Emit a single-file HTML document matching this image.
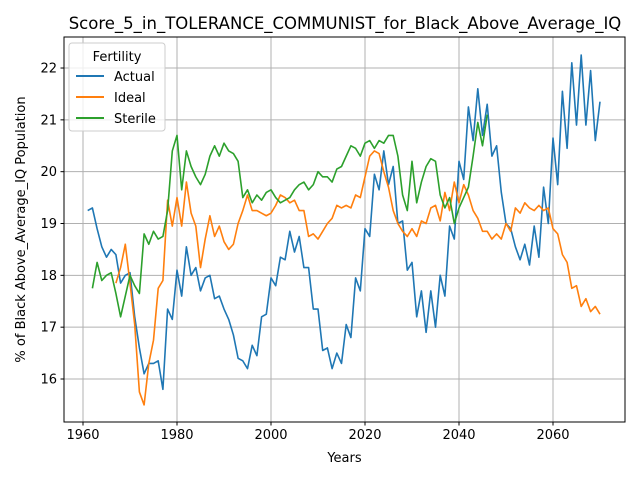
<!DOCTYPE html>
<html><head><meta charset="utf-8"><style>
body{margin:0;background:#fff;}
svg{font-family:"DejaVu Sans","Liberation Sans",sans-serif;}
</style></head><body>
<svg id="chart" width="640" height="480">
<text x="345" y="29" font-size="16.5" text-anchor="middle">Score_5_in_TOLERANCE_COMMUNIST_for_Black_Above_Average_IQ</text>
<g id="grid"></g>
<g id="lines"></g>
<rect x="64" y="37" width="561" height="385" fill="none" stroke="#000" stroke-width="1"/>
<g id="ticks"></g>
<text x="344.5" y="462" font-size="13" text-anchor="middle">Years</text>
<text transform="translate(25,229.5) rotate(-90)" font-size="13" text-anchor="middle">% of Black Above_Average_IQ Population</text>
<g>
<rect x="69" y="43" width="96" height="88" rx="3" fill="#fff" fill-opacity="0.8" stroke="#ccc"/>
<text x="117" y="61" font-size="13" text-anchor="middle">Fertility</text>
<line x1="76" y1="76" x2="104" y2="76" stroke="#1f77b4" stroke-width="2"/>
<text x="114" y="81" font-size="13">Actual</text>
<line x1="76" y1="97" x2="104" y2="97" stroke="#ff7f0e" stroke-width="2"/>
<text x="114" y="102" font-size="13">Ideal</text>
<line x1="76" y1="118" x2="104" y2="118" stroke="#2ca02c" stroke-width="2"/>
<text x="114" y="123" font-size="13">Sterile</text>
</g>
</svg>
<script>
const xTicks=[1960,1980,2000,2020,2040,2060];
const yTicks=[16,17,18,19,20,21,22];
const actualStart=1961;
const actualValues=[19.25,19.3,18.9,18.55,18.35,18.5,18.4,17.85,18.0,18.05,17.2,16.6,16.1,16.3,16.3,16.35,15.8,17.35,17.15,18.1,17.6,18.55,18.0,18.15,17.7,17.95,18.0,17.55,17.6,17.35,17.15,16.85,16.4,16.35,16.2,16.65,16.45,17.2,17.25,17.95,17.8,18.35,18.3,18.85,18.45,18.75,18.15,18.15,17.35,17.35,16.55,16.6,16.2,16.5,16.3,17.05,16.8,17.95,17.7,18.9,18.75,19.95,19.65,20.4,19.75,20.1,19.0,19.05,18.1,18.25,17.2,17.7,16.9,17.7,17.0,18.0,17.6,18.95,18.7,20.2,19.85,21.25,20.6,21.6,20.7,21.3,20.3,20.5,19.6,19.0,18.9,18.55,18.3,18.6,18.2,18.95,18.35,19.7,19.0,20.65,19.75,21.55,20.45,22.1,20.9,22.25,20.9,21.95,20.6,21.35];
const idealStart=1967;
const idealValues=[17.85,18.15,18.6,17.85,17.05,15.75,15.5,16.3,16.75,17.75,17.9,19.45,18.95,19.5,18.95,19.8,19.2,18.95,18.15,18.7,19.15,18.75,18.95,18.65,18.5,18.6,19.0,19.25,19.55,19.25,19.25,19.2,19.15,19.2,19.35,19.55,19.5,19.4,19.45,19.25,19.25,18.75,18.8,18.7,18.85,19.0,19.1,19.35,19.3,19.35,19.3,19.55,19.5,19.9,20.3,20.4,20.35,20.0,19.7,19.25,19.0,18.85,18.75,18.9,18.75,19.05,19.0,19.3,19.35,19.05,19.6,19.25,19.8,19.4,19.75,19.55,19.25,19.1,18.85,18.85,18.7,18.8,18.7,19.0,18.85,19.3,19.2,19.4,19.3,19.25,19.35,19.25,19.3,18.9,18.8,18.4,18.25,17.75,17.8,17.4,17.55,17.3,17.4,17.25];
const sterileStart=1962;
const sterileValues=[17.75,18.25,17.9,18.0,18.05,17.65,17.2,17.6,18.0,17.8,17.65,18.8,18.6,18.85,18.7,18.75,19.25,20.4,20.7,19.65,20.4,20.1,19.9,19.75,19.95,20.3,20.5,20.3,20.55,20.4,20.35,20.2,19.5,19.65,19.4,19.55,19.45,19.6,19.65,19.5,19.4,19.45,19.5,19.65,19.75,19.8,19.65,19.75,20.0,19.9,19.9,19.8,20.05,20.1,20.3,20.5,20.45,20.3,20.55,20.6,20.45,20.6,20.55,20.7,20.7,20.3,19.55,19.25,20.2,19.4,19.8,20.1,20.25,20.2,19.55,19.3,19.5,19.0,19.3,19.5,19.7,20.3,20.95,20.5,21.1];
const NS='http://www.w3.org/2000/svg';
const BOTTOM=422;
function xScale(y){return 83+(y-1960)*4.7;}
function yScale(v){return 379-(v-16)*51.83;}
const grid=document.getElementById('grid'),ticks=document.getElementById('ticks'),lines=document.getElementById('lines');
function mk(tag,attrs,parent){const e=document.createElementNS(NS,tag);for(const k in attrs)e.setAttribute(k,attrs[k]);parent.appendChild(e);return e;}
xTicks.forEach(t=>{const x=xScale(t);
 const g=mk('line',{x1:x,x2:x,y1:37,y2:BOTTOM,stroke:'#b0b0b0','stroke-width':1},grid);
 
 
 mk('line',{x1:x,x2:x,y1:BOTTOM,y2:BOTTOM+3.5,stroke:'#000'},ticks);
 const tx=mk('text',{x:x,y:BOTTOM+17,'font-size':13,'text-anchor':'middle'},ticks);tx.textContent=t;
 
 
});
yTicks.forEach(t=>{const y=yScale(t);
 const g=mk('line',{x1:64,x2:625,y1:y,y2:y,stroke:'#b0b0b0','stroke-width':1},grid);
 
 
 mk('line',{x1:60.5,x2:64,y1:y,y2:y,stroke:'#000'},ticks);
 const tx=mk('text',{x:57,y:y+4.5,'font-size':13,'text-anchor':'end'},ticks);tx.textContent=t;
 
 
});
function series(start,vals,color,name){
 const d=vals.map((v,i)=>(i?'L':'M')+xScale(start+i).toFixed(2)+','+yScale(v).toFixed(2)).join(' ');
 const p=mk('path',{d:d,fill:'none',stroke:color,'stroke-width':1.6,'stroke-linejoin':'round'},lines);
 
 
}
series(actualStart,actualValues,'#1f77b4','actual-line');
series(idealStart,idealValues,'#ff7f0e','ideal-line');
series(sterileStart,sterileValues,'#2ca02c','sterile-line');
</script>
</body></html>
